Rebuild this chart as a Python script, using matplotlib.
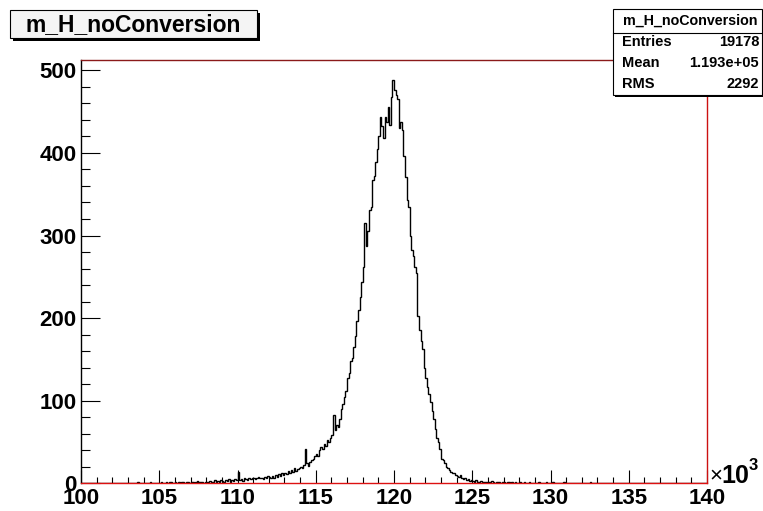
import matplotlib
matplotlib.use('Agg')
import matplotlib.pyplot as plt
from matplotlib.patches import Rectangle
from matplotlib.lines import Line2D
from matplotlib.ticker import MultipleLocator
import numpy as np

plt.rcParams['font.family'] = ['Liberation Sans', 'DejaVu Sans']

# ---------------- data ----------------
hist_title = "m_H_noConversion"
bin_low = 100.0      # in units of 10^3
bin_width = 0.1
counts = [
    0, 0, 0, 0, 0, 0, 0, 0, 0, 0,          # 100
    0, 0, 0, 0, 0, 0, 0, 0, 0, 0,          # 101
    0, 0, 0, 0, 0, 0, 0, 0, 0, 0,          # 102
    0, 0, 0, 0, 0, 0, 1, 0, 0, 0,          # 103
    0, 0, 0, 0, 1, 0, 0, 0, 0, 0,          # 104
    0, 1, 0, 0, 1, 0, 2, 1, 0, 0,          # 105
    1, 0, 1, 0, 2, 1, 0, 1, 2, 0,          # 106
    1, 2, 0, 1, 3, 1, 2, 1, 0, 2,          # 107
    2, 1, 3, 2, 1, 4, 2, 3, 2, 4,          # 108
    3, 2, 4, 3, 5, 2, 4, 3, 5, 4,          # 109
    14, 4, 5, 3, 6, 5, 4, 6, 5, 7,         # 110
    6, 5, 7, 8, 6, 7, 5, 8, 7, 9,          # 111
    8, 6, 9, 7, 10, 8, 11, 9, 12, 10,      # 112
    13, 11, 15, 12, 16, 14, 18, 15, 17, 19,    # 113
    20, 18, 22, 41, 24, 21, 26, 28, 30, 33,    # 114
    36, 33, 40, 44, 42, 48, 45, 52, 50, 55,    # 115
    58, 83, 64, 70, 68, 78, 90, 96, 104, 112,  # 116
    128, 134, 148, 152, 165, 178, 196, 210, 226, 244,  # 117
    262, 315, 287, 305, 331, 335, 367, 372, 389, 405,  # 118
    420, 444, 432, 418, 443, 438, 455, 434, 468, 488,  # 119
    476, 470, 465, 430, 438, 428, 396, 371, 343, 335,  # 120
    299, 283, 275, 262, 255, 202, 185, 172, 162, 140,  # 121
    128, 116, 108, 98, 88, 78, 66, 55, 50, 42,         # 122
    30, 28, 24, 20, 18, 16, 14, 12, 12, 10,            # 123
    9, 8, 10, 6, 5, 7, 4, 5, 3, 4,                     # 124
    3, 2, 4, 2, 1, 3, 2, 1, 2, 1,          # 125
    2, 1, 3, 1, 0, 2, 1, 1, 0, 1,          # 126
    1, 0, 1, 2, 0, 1, 0, 1, 0, 0,          # 127
    1, 0, 0, 1, 0, 0, 1, 0, 0, 0,          # 128
    0, 0, 1, 0, 0, 0, 0, 1, 0, 0,          # 129
    0, 1, 0, 0, 0, 0, 0, 0, 1, 0,          # 130
    0, 0, 0, 0, 0, 0, 0, 0, 0, 0,          # 131
    0, 0, 0, 0, 0, 1, 0, 0, 0, 0,          # 132
    0, 0, 0, 0, 0, 0, 0, 0, 0, 0,          # 133
    0, 0, 0, 0, 0, 0, 0, 0, 0, 0,          # 134
    0, 0, 0, 0, 0, 0, 0, 0, 0, 0,          # 135
    0, 0, 0, 0, 0, 0, 0, 0, 0, 0,          # 136
    0, 0, 0, 0, 0, 0, 0, 0, 0, 0,          # 137
    0, 0, 0, 0, 0, 0, 0, 0, 0, 0,          # 138
    0, 0, 0, 0, 0, 0, 0, 0, 0, 0,          # 139
]
x_tick_values = [100, 105, 110, 115, 120, 125, 130, 135, 140]
y_tick_values = [0, 100, 200, 300, 400, 500]
stat_names = ["Entries", "Mean", "RMS"]
stat_values = ["19178", "1.193e+05", "2292"]

# ---------------- figure ----------------
W, H = 763, 511
fig = plt.figure(figsize=(W / 100, H / 100), dpi=100)
fig.patch.set_facecolor('white')

def fx(x):
    return x / W

def fy(y):
    return 1 - y / H

ax_l, ax_r, ax_t, ax_b = 81, 707, 60, 483.3
ax = fig.add_axes([fx(ax_l), fy(ax_b), (ax_r - ax_l) / W, (ax_b - ax_t) / H])

edges = bin_low + bin_width * np.arange(len(counts) + 1)
ax.stairs(counts, edges, color='black', lw=1.0, baseline=None)

ax.set_xlim(100, 140)
ax.set_ylim(0, 512.5)
ax.set_xticks(x_tick_values)
ax.set_xticklabels([str(v) for v in x_tick_values])
ax.set_yticks(y_tick_values)
ax.set_yticklabels([str(v) for v in y_tick_values])
ax.xaxis.set_minor_locator(MultipleLocator(1))
ax.yaxis.set_minor_locator(MultipleLocator(20))

ax.tick_params(axis='x', which='major', direction='in', length=9.1, width=0.8,
               pad=3.2, labelsize=16, top=False)
ax.tick_params(axis='x', which='minor', direction='in', length=4.4, width=0.8, top=False)
ax.tick_params(axis='y', which='major', direction='in', length=13.7, width=0.8,
               pad=3, labelsize=16, right=False)
ax.tick_params(axis='y', which='minor', direction='in', length=6.8, width=0.8, right=False)
for lab in ax.get_xticklabels() + ax.get_yticklabels():
    lab.set_fontweight('bold')

ax.spines['left'].set_color('black')
ax.spines['bottom'].set_color('#dd1111')
ax.spines['top'].set_color('#8b1a1a')
ax.spines['right'].set_color('#cc1111')
for s in ax.spines.values():
    s.set_linewidth(1.0)

# x10^3 multiplier
fig.text(fx(709), fy(476), "\u00d7", fontsize=16, ha='left', va='center')
fig.text(fx(721), fy(475.5), "10", fontsize=18, fontweight='bold', ha='left', va='center')
fig.text(fx(749), fy(466), "3", fontsize=12, fontweight='bold', ha='left', va='center')

# ---------------- title box ----------------
tb_l, tb_t, tb_r, tb_b = 10, 10, 257, 38
sh = 3
fig.patches.append(Rectangle((fx(tb_l + sh), fy(tb_b + sh)), (tb_r - tb_l) / W, (tb_b - tb_t) / H,
                             transform=fig.transFigure, facecolor='black', edgecolor='none', zorder=5))
fig.patches.append(Rectangle((fx(tb_l), fy(tb_b)), (tb_r - tb_l) / W, (tb_b - tb_t) / H,
                             transform=fig.transFigure, facecolor='#f4f4f4', edgecolor='black',
                             lw=0.8, zorder=6))
fig.text(fx((tb_l + tb_r) / 2), fy(24.5), hist_title, fontsize=16.5, fontweight='bold',
         ha='center', va='center', zorder=7)

# ---------------- stats box ----------------
sb_l, sb_t, sb_r, sb_b = 613, 9, 762, 95
fig.patches.append(Rectangle((fx(sb_l + 2), fy(sb_b + 2)), (sb_r - sb_l) / W, (sb_b - sb_t) / H,
                             transform=fig.transFigure, facecolor='black', edgecolor='none', zorder=5))
fig.patches.append(Rectangle((fx(sb_l), fy(sb_b)), (sb_r - sb_l) / W, (sb_b - sb_t) / H,
                             transform=fig.transFigure, facecolor='white', edgecolor='black',
                             lw=0.8, zorder=6))
fig.lines.append(Line2D([fx(sb_l), fx(sb_r)], [fy(33), fy(33)], transform=fig.transFigure,
                        color='black', lw=0.8, zorder=7))
fig.text(fx(690), fy(20.5), hist_title, fontsize=10.3, fontweight='bold',
         ha='center', va='center', zorder=8)
row_y = [42, 63, 84.5]
for name, val, yy in zip(stat_names, stat_values, row_y):
    fig.text(fx(622), fy(yy), name, fontsize=10.5, fontweight='bold',
             ha='left', va='center', zorder=8)
    fig.text(fx(759), fy(yy), val, fontsize=10.5, fontweight='bold',
             ha='right', va='center', zorder=8)

fig.savefig('out.png', dpi=100)
